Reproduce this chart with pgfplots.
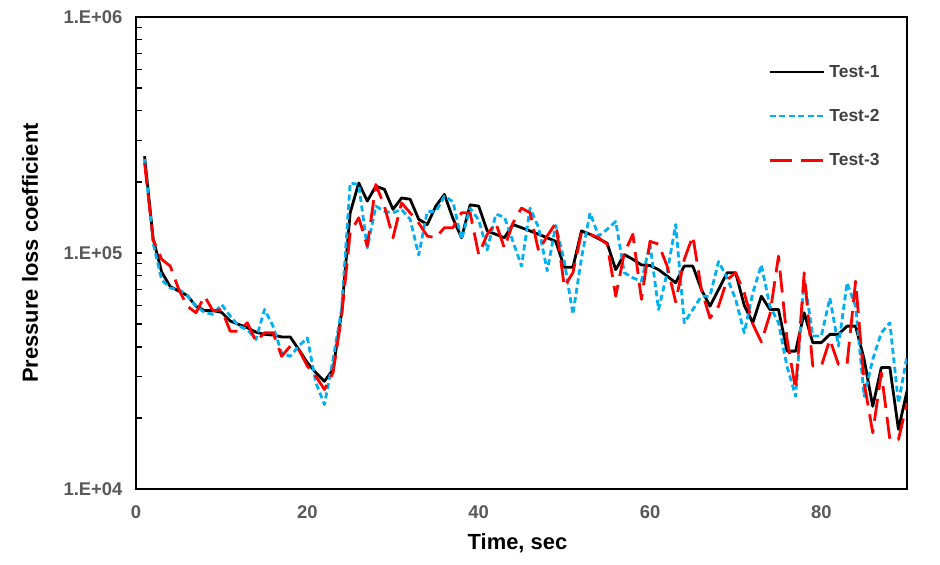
\documentclass[border=0pt]{standalone}
\usepackage{fontspec}
\setmainfont{Liberation Sans}
\usepackage{pgfplots}
\pgfplotsset{compat=1.18}
\usepackage{pgfplotstable}
\definecolor{tickgray}{HTML}{595959}
\definecolor{tblue}{HTML}{00B0F0}
\definecolor{tred}{HTML}{FF0000}
\definecolor{legtext}{HTML}{404040}

\pgfplotstableread{
t v
1 2.57e5
2 1.15e5
3 8.3e4
4 7.2e4
5 6.9e4
6 6.6e4
7 5.95e4
8 5.7e4
9 5.7e4
10 5.6e4
11 5.15e4
12 4.98e4
13 4.82e4
14 4.62e4
15 4.52e4
16 4.49e4
17 4.41e4
18 4.41e4
19 3.9e4
20 3.43e4
21 3.11e4
22 2.86e4
23 3.21e4
24 5.6e4
25 1.48e5
26 1.98e5
27 1.66e5
28 1.92e5
29 1.86e5
30 1.53e5
31 1.71e5
32 1.69e5
33 1.39e5
34 1.32e5
35 1.58e5
36 1.77e5
37 1.4e5
38 1.16e5
39 1.6e5
40 1.58e5
41 1.24e5
42 1.2e5
43 1.16e5
44 1.32e5
45 1.28e5
46 1.24e5
47 1.2e5
48 1.16e5
49 1.12e5
50 8.7e4
51 8.7e4
52 1.24e5
53 1.2e5
54 1.15e5
55 1.1e5
56 8.5e4
57 9.85e4
58 9.4e4
59 8.9e4
60 8.85e4
61 8.5e4
62 7.98e4
63 7.48e4
64 8.8e4
65 8.8e4
66 7e4
67 5.95e4
68 7e4
69 8.25e4
70 8.25e4
71 6e4
72 5.06e4
73 6.56e4
74 5.76e4
75 5.76e4
76 3.84e4
77 3.84e4
78 5.58e4
79 4.17e4
80 4.17e4
81 4.52e4
82 4.52e4
83 4.9e4
84 4.9e4
85 3.54e4
86 2.24e4
87 3.27e4
88 3.27e4
89 1.79e4
90 2.6e4
}\testone

\pgfplotstableread{
t v
1 2.5e5
2 1.1e5
3 7.7e4
4 7.1e4
5 7e4
6 6.6e4
7 5.95e4
8 5.6e4
9 5.5e4
10 6.05e4
11 5.4e4
12 4.9e4
13 4.74e4
14 4.3e4
15 5.76e4
16 4.9e4
17 3.77e4
18 3.65e4
19 4.03e4
20 4.37e4
21 2.82e4
22 2.28e4
23 3.54e4
24 5.76e4
25 1.98e5
26 1.95e5
27 1.05e5
28 1.58e5
29 1.5e5
30 1.48e5
31 1.53e5
32 1.39e5
33 9.8e4
34 1.5e5
35 1.5e5
36 1.74e5
37 1.65e5
38 1.14e5
39 1.55e5
40 1.38e5
41 1.03e5
42 1.46e5
43 1.42e5
44 1.12e5
45 8.8e4
46 1.55e5
47 1.28e5
48 8.4e4
49 1.31e5
50 9.2e4
51 5.5e4
52 9.5e4
53 1.48e5
54 1.18e5
55 1.26e5
56 1.36e5
57 8.25e4
58 7.85e4
59 7.6e4
60 1.09e5
61 5.76e4
62 8.25e4
63 1.32e5
64 5.06e4
65 5.76e4
66 6.56e4
67 6.56e4
68 9.2e4
69 7.85e4
70 6.36e4
71 4.59e4
72 6.78e4
73 8.9e4
74 5.95e4
75 5.06e4
76 3.3e4
77 2.47e4
78 7.85e4
79 4.45e4
80 4.45e4
81 6.45e4
82 4.03e4
83 7.48e4
84 5.95e4
85 2.47e4
86 3.54e4
87 4.59e4
88 5.06e4
89 2.31e4
90 3.65e4
}\testtwo

\pgfplotstableread{
t v
1 2.41e5
2 1.14e5
3 9.4e4
4 8.8e4
5 7e4
6 5.95e4
7 5.58e4
8 6.56e4
9 5.68e4
10 5.76e4
11 4.66e4
12 4.66e4
13 5.06e4
14 4.22e4
15 4.59e4
16 4.59e4
17 3.65e4
18 4.03e4
19 3.9e4
20 3.32e4
21 3.0e4
22 2.64e4
23 3.11e4
24 5.4e4
25 1.22e5
26 1.41e5
27 1.07e5
28 1.95e5
29 1.58e5
30 1.16e5
31 1.63e5
32 1.48e5
33 1.34e5
34 1.18e5
35 1.16e5
36 1.28e5
37 1.28e5
38 1.48e5
39 1.48e5
40 9.85e4
41 1.2e5
42 1.34e5
43 1.05e5
44 1.34e5
45 1.55e5
46 1.48e5
47 1.02e5
48 1.18e5
49 1.34e5
50 7.2e4
51 8.25e4
52 1.22e5
53 1.2e5
54 1.16e5
55 1.09e5
56 6.56e4
57 1e5
58 1.2e5
59 6.36e4
60 1.12e5
61 1.09e5
62 8.8e4
63 6.2e4
64 9.4e4
65 1.18e5
66 7e4
67 5.3e4
68 5.95e4
69 7.7e4
70 8.25e4
71 6.78e4
72 5e4
73 4.2e4
74 5.5e4
75 9.7e4
76 4.3e4
77 2.64e4
78 8.25e4
79 3.32e4
80 3.32e4
81 4.3e4
82 3.37e4
83 3.37e4
84 7.6e4
85 2.82e4
86 1.73e4
87 3.11e4
88 1.62e4
89 1.62e4
90 2.31e4
}\testthree

\begin{document}
\begin{tikzpicture}
\useasboundingbox (-136bp,-76bp) rectangle (804bp,489bp);
\begin{axis}[
  at={(0,0)}, anchor=south west,
  scale only axis, width=771bp, height=472bp,
  xmin=0, xmax=90, ymin=1e4, ymax=1e6, ymode=log,
  axis line style={line width=2.4bp, black},
  xtick={0,20,40,60,80}, xtick style={draw=none},
  ytick={1e4,1e5,1e6}, yticklabels={1.E+04,1.E+05,1.E+06},
  minor ytick={2e4,3e4,4e4,5e4,6e4,7e4,8e4,9e4,2e5,3e5,4e5,5e5,6e5,7e5,8e5,9e5},
  ytick pos=left, tick align=inside,
  major tick length=6bp, minor tick length=6bp,
  ytick style={black, line width=1.2bp},
  /pgf/number format/assume math mode=true,
  ticklabel style={font=\bfseries\fontsize{18.5}{20}\selectfont, text=tickgray},
  xticklabel style={anchor=center, yshift=-22.7bp},
  yticklabel style={anchor=east, xshift=-10bp},
  xlabel={Time, sec}, ylabel={Pressure loss coefficient},
  label style={font=\bfseries\fontsize{22}{24}\selectfont},
  xlabel style={at={(axis description cs:0.4948,-0.1144)}, anchor=center},
  ylabel style={at={(axis description cs:-0.1375,0.5)}, anchor=center},
  every axis plot/.append style={line width=2.8bp, line join=round},
  legend image code/.code={\draw[#1] (0bp,0bp) -- (54bp,0bp);},
  legend cell align=left,
  legend style={draw=none, fill=none, at={(axis description cs:0.8197,0.9025)}, anchor=north west,
    inner sep=0pt, row sep=26.5bp,
    nodes={inner xsep=4.5bp},
    font=\bfseries\fontsize{17.5}{19}\selectfont, text=legtext},
]
\addplot[black] table[x=t, y=v] {\testone};
\addlegendentry{Test-1}
\addplot[tblue, dash pattern=on 6bp off 3.5bp] table[x=t, y=v] {\testtwo};
\addlegendentry{Test-2}
\addplot[tred, dash pattern=on 22bp off 9bp] table[x=t, y=v] {\testthree};
\addlegendentry{Test-3}
\end{axis}
\end{tikzpicture}
\end{document}
